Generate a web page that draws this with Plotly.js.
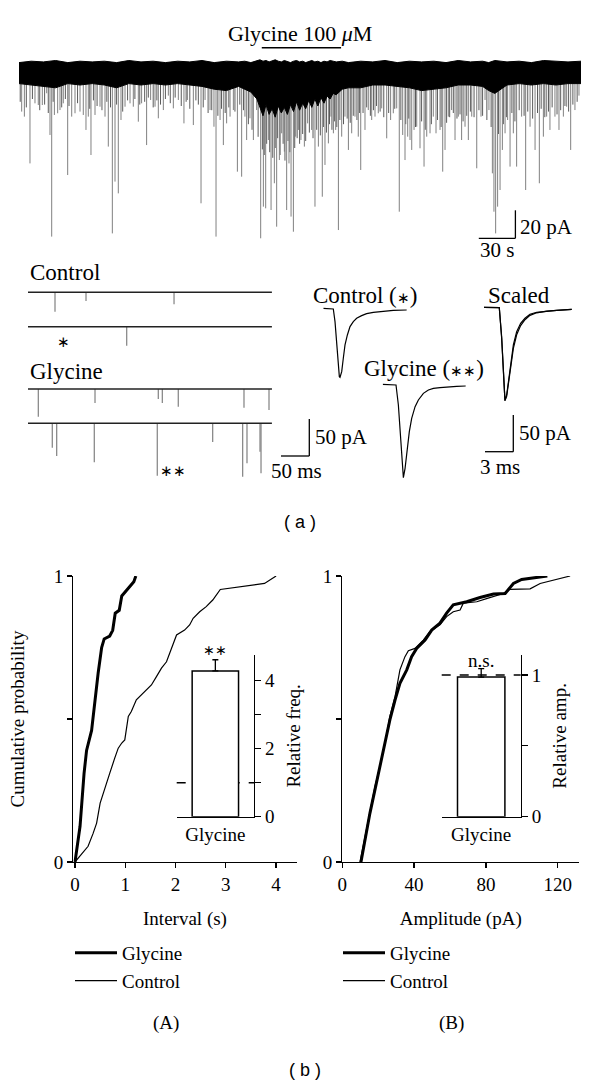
<!DOCTYPE html>
<html>
<head>
<meta charset="utf-8">
<script src="https://cdn.plot.ly/plotly-3.0.1.min.js"></script>
<style>
  html, body { margin: 0; padding: 0; background: #ffffff; }
  #chart { width: 600px; height: 1087px; }
</style>
</head>
<body>
<div id="chart"></div>
<script>
// ---------- (a) continuous recording: large events, time (s) and amplitude (pA, inward) ----------
const spikeTime = [2.2, 4.4, 9.0, 13.1, 15.8, 19.1, 22.7, 25.4, 26.8, 29.0, 31.7, 33.6, 36.3, 39.9, 43.2, 45.9, 50.0, 52.7, 54.9, 56.8, 59.0, 62.3, 66.4, 70.5, 73.2, 76.5, 78.7, 81.4, 83.6, 86.9, 91.0,
  93.7, 97.8, 100.5, 104.6, 107.9, 111.5, 114.2, 118.3, 122.4, 126.5, 130.6, 135.2, 138.0, 142.9, 149.2, 152.5, 156.6, 159.8, 161.5, 164.8, 167.5, 170.2, 173.0, 175.7, 179.0, 182.5, 185.2,
  186.6, 189.3, 192.1, 194.8, 198.1, 200.3, 202.2, 204.4, 206.6, 209.3, 211.2, 213.4, 215.3, 217.5, 219.4, 221.3, 223.0, 224.9, 226.8, 229.0, 231.1, 233.9, 236.6, 239.9, 242.6, 245.4, 248.6, 250.8, 253.6, 255.7, 257.7, 259.6, 261.8, 264.5, 267.2, 270.0, 272.7, 275.4, 278.1,
  280.1, 283.6, 286.3, 289.1, 291.8, 294.5, 297.3, 301.4, 304.6, 306.8, 309.6, 311.7, 314.5, 316.4, 318.6, 320.5, 321.9, 323.8, 326.0, 328.7, 332.0, 334.2, 336.9, 339.6, 341.8, 345.1, 347.3, 349.2, 351.9, 354.6, 357.4, 360.1, 362.8, 365.6, 368.3, 371.1, 375.2,
  378.7, 382.0, 385.2, 388.0, 389.3, 390.7, 392.3, 394.3, 396.2, 398.4, 400.5, 402.5, 405.2, 407.9, 412.0, 415.3, 418.9, 423.0, 426.5, 429.8, 432.5, 435.2, 439.3, 442.6, 446.2, 448.9, 452.2, 455.7, 459.0];
const spikeAmp = [29.0, 32.6, 66.0, 23.1, 24.3, 24.3, 15.9, 45.7, 118.3, 31.4, 30.2, 27.9, 23.1, 74.3, 32.6, 30.2, 29.0, 31.4, 42.1, 32.6, 60.0, 31.4, 25.5, 32.6, 54.0, 116.0, 79.0, 87.4, 35.0, 25.5, 23.1,
  25.5, 36.2, 23.1, 52.9, 20.7, 25.5, 33.8, 27.9, 17.6, 26.7, 20.7, 37.4, 20.7, 38.6, 94.5, 20.7, 27.9, 39.8, 118.3, 35.0, 52.9, 37.4, 32.6, 27.9, 71.9, 75.5, 32.6,
  49.3, 33.8, 49.3, 27.9, 119.5, 96.9, 98.1, 49.3, 99.3, 80.2, 111.2, 63.6, 44.5, 57.6, 99.3, 66.0, 104.0, 114.8, 46.9, 42.1, 49.3, 54.0, 37.4, 42.1, 96.9, 54.0, 89.8, 67.1, 51.7, 32.6, 44.5, 42.1, 113.6, 46.9, 32.6, 56.4, 44.5, 32.6, 46.9,
  70.7, 42.1, 27.9, 35.0, 32.6, 30.2, 26.7, 48.1, 35.0, 30.2, 26.7, 100.5, 45.7, 63.6, 46.9, 49.3, 56.4, 42.1, 39.8, 55.2, 68.3, 46.9, 44.5, 32.6, 44.5, 42.1, 71.9, 56.4, 32.6, 27.9, 49.3, 32.6, 49.3, 39.8, 49.3, 32.6, 69.5,
  32.6, 20.7, 27.9, 73.1, 100.5, 116.0, 96.9, 85.0, 56.4, 44.5, 35.0, 68.3, 44.5, 68.3, 32.6, 85.0, 39.8, 56.4, 80.2, 46.9, 32.6, 42.1, 32.6, 42.1, 32.6, 25.5, 56.4, 27.9, 17.6];
// smaller events forming the fringe under the noise band
const minorTime = [1, 6, 11, 17, 21, 24, 28, 35, 38, 41, 48, 58, 61, 64, 68, 72, 75, 80, 85, 89,
  95, 99, 103, 106, 110, 113, 116, 120, 124, 128, 133, 137, 140, 145, 147, 151, 155, 158, 163, 166, 169, 172, 177, 181, 184,
  188, 191, 196, 199.5, 201, 203, 205.5, 208, 210, 212, 214, 216.5, 218, 220.5, 222, 226, 228, 230, 232.5, 235, 238, 241, 244, 247, 249.5, 252, 254.5, 256.5, 258.5, 260.5, 263, 266, 269, 271.5, 274, 277, 279,
  282, 285, 288, 290.5, 293, 296, 299, 303, 308, 313, 317, 319.5, 325, 330, 333, 338, 343, 346, 350.5, 353, 356, 359, 361.5, 364, 367, 370, 373,
  377, 380, 383.5, 387, 393, 397, 399.5, 404, 406.5, 410, 414, 417, 421, 425, 428, 431, 434, 437, 441, 444, 447.5, 450.5, 454, 457.5];
const minorAmp = [22, 26, 20, 28, 24, 30, 22, 26, 20, 25, 23, 27, 21, 25, 28, 22, 26, 24, 29, 21,
  20, 24, 22, 19, 26, 21, 24, 20, 23, 19, 25, 22, 27, 21, 24, 26, 30, 28, 32, 27, 30, 26, 29, 24, 28,
  38, 42, 47, 56, 60, 52, 58, 62, 55, 48, 60, 52, 64, 50, 58, 55, 48, 52, 45, 50, 44, 48, 42, 46, 40, 44, 38, 42, 36, 40, 35, 38, 34, 37, 32, 35, 30,
  30, 26, 32, 28, 25, 29, 33, 30, 27, 35, 38, 34, 40, 36, 42, 38, 35, 40, 37, 33, 30, 34, 31, 36, 32, 29, 33,
  28, 32, 35, 40, 45, 38, 33, 30, 36, 28, 32, 29, 34, 30, 27, 33, 29, 26, 31, 28, 25, 29, 24, 22];
// noise envelope around the baseline (pA)
const bandTime = [0, 10, 20, 30, 40, 50, 60, 70, 80, 90, 100, 110, 120, 130, 140, 150, 160, 170, 180, 185, 190, 195,
  197.5, 200, 202.5, 205, 207.5, 210, 212.5, 215, 217.5, 220, 222.5, 225, 227.5, 230, 232.5, 235, 237.5, 240, 242.5, 245, 247.5, 250, 252.5, 255, 257.5, 260, 265, 270,
  280, 290, 300, 310, 320, 330, 340, 350, 360, 370, 380, 385, 390, 395, 400, 410, 420, 430, 440, 450, 460.7];
const bandUpper = [6, 7, 6.5, 7.5, 6, 7, 6.5, 7, 6, 7.5, 6.5, 7, 6, 7, 6.5, 7.5, 6, 7, 6.5, 7, 6, 7.5,
  8, 7, 7.5, 6.5, 7, 8, 7, 6.5, 7.5, 7, 6, 7, 7.5, 6.5, 7, 6, 7, 7.5, 6.5, 7, 6, 7, 6.5, 7.5, 7, 6.5, 7, 6,
  7, 6.5, 7.5, 6, 7, 6.5, 7, 6, 7.5, 6.5, 7, 6, 7.5, 7, 6.5, 7, 6, 7.5, 7, 6.5, 7];
const bandLower = [-9, -10, -11, -12, -9, -10, -9, -10, -12, -9, -10, -9, -10, -9, -10, -11, -13, -14, -11, -13, -15, -20,
  -26, -32, -24, -31, -27, -33, -25, -30, -26, -31, -24, -29, -22, -28, -23, -27, -21, -26, -20, -25, -19, -23, -18, -20, -16, -17, -13, -12,
  -12, -10, -10, -11, -12, -14, -13, -12, -10, -10, -11, -14, -16, -13, -10, -9, -10, -9, -10, -9, -9];
const glycineWindow = [199, 264];
const recordLength = 460.7;

// ---------- (a) sample sweeps (ms, pA) ----------
const sweepLength = 431;
const sweep1Time = [47.7, 102.5, 258.0];
const sweep1Amp = [26.2, 11.8, 16.2];
const sweep2Time = [174.4];
const sweep2Amp = [25.7];
const sweep3Time = [18.2, 118.4, 230.2, 237.3, 265.5, 381.6, 425.8];
const sweep3Amp = [37.4, 18.9, 13.5, 18.9, 23.9, 25.3, 28.4];
const sweep4Time = [42.9, 50.7, 117.1, 228.4, 326.3, 379.3, 386.9, 409.9, 411.7];
const sweep4Amp = [33.0, 44.2, 52.7, 70.8, 25.3, 72.2, 54.1, 38.4, 67.6];

// ---------- (a) averaged events (ms, pA) ----------
const ctlAvgTime = [0, 1.06, 1.24, 1.49, 1.70, 1.77, 1.95, 2.12, 2.30, 2.55, 2.83, 3.18, 3.53, 4.06, 4.59, 5.30, 6.36, 7.42, 8.83];
const ctlAvg = [0, -0.9, -18.2, -63.7, -93.2, -94.1, -86.4, -68.2, -50.0, -36.4, -25.0, -18.2, -13.6, -10.0, -7.3, -5.5, -3.6, -2.7, -2.3];
const glyAvgTime = [0, 1.41, 1.66, 1.91, 2.12, 2.19, 2.37, 2.54, 2.82, 3.07, 3.43, 3.78, 4.31, 4.84, 5.37, 6.07, 6.78, 7.84, 8.79];
const glyAvg = [0, -0.9, -28.2, -78.2, -119.1, -127.3, -114.6, -91.9, -64.6, -46.4, -30.5, -21.4, -12.3, -7.7, -5.5, -4.5, -3.6, -2.7, -2.3];
const scaledTime = [0, 1.62, 1.87, 2.05, 2.22, 2.40, 2.58, 2.82, 3.11, 3.46, 3.88, 4.34, 4.87, 5.58, 6.64, 7.70, 9.29];
const scaledGly = [0, -0.5, -42.3, -87.8, -127.3, -119.6, -101.4, -74.1, -51.4, -33.2, -21.8, -15.0, -9.5, -6.8, -5.0, -4.1, -2.7];
const scaledCtl = [0, -0.5, -40.0, -85.0, -127.3, -121.5, -105.0, -79.0, -56.0, -37.5, -25.0, -17.0, -11.0, -7.5, -5.2, -4.1, -2.7];

// ---------- (b) cumulative distributions ----------
const intervalGly = [0, 0.10, 0.18, 0.23, 0.33, 0.40, 0.46, 0.53, 0.58, 0.69, 0.75, 0.80, 0.88, 0.93, 1.02, 1.12, 1.17, 1.21];
const cumIntervalGly = [0, 0.125, 0.31, 0.39, 0.46, 0.57, 0.66, 0.75, 0.78, 0.79, 0.81, 0.87, 0.88, 0.93, 0.95, 0.97, 0.98, 1.0];
const intervalCtl = [0, 0.10, 0.26, 0.36, 0.43, 0.50, 0.60, 0.69, 0.79, 0.86, 0.93, 0.99, 1.06, 1.12, 1.22, 1.39, 1.52, 1.62, 1.72, 1.82, 1.92, 2.02, 2.18, 2.28, 2.35, 2.48, 2.61, 2.74, 2.89, 3.07, 3.77, 4.0];
const cumIntervalCtl = [0, 0.02, 0.055, 0.10, 0.136, 0.206, 0.264, 0.31, 0.363, 0.398, 0.416, 0.427, 0.509, 0.526, 0.567, 0.596, 0.619, 0.648, 0.678, 0.70, 0.747, 0.794, 0.811, 0.829, 0.852, 0.875, 0.893, 0.916, 0.953, 0.957, 0.974, 1.0];
const ampGly = [10.4, 12.6, 15.4, 18.2, 21.0, 23.8, 26.5, 29.4, 32.1, 35.9, 38.6, 41.4, 46.1, 49.8, 54.4, 58.1, 61.8, 69.3, 76.7, 84.2, 90.7, 95.3, 99.9, 114.2];
const cumAmpGly = [0, 0.078, 0.171, 0.253, 0.334, 0.416, 0.497, 0.567, 0.625, 0.672, 0.718, 0.747, 0.776, 0.811, 0.835, 0.87, 0.899, 0.91, 0.925, 0.937, 0.939, 0.974, 0.988, 1.0];
const ampCtl = [9.85, 12.6, 15.4, 18.2, 21.0, 23.8, 26.5, 29.4, 32.1, 34.9, 36.8, 40.5, 45.1, 48.8, 54.4, 58.1, 61.8, 65.6, 67.4, 74.9, 80.8, 89.7, 93.4, 104.6, 110.2, 126.9];
const cumAmpCtl = [0, 0.09, 0.171, 0.264, 0.334, 0.416, 0.509, 0.579, 0.672, 0.718, 0.739, 0.747, 0.776, 0.806, 0.829, 0.858, 0.875, 0.881, 0.905, 0.91, 0.922, 0.939, 0.953, 0.955, 0.974, 1.0];

// inset bars (relative to control = 1)
const insetCategory = ["Glycine"];
const relFreq = [4.29];
const relFreqErr = [0.33];
const relAmp = [0.985];
const relAmpErr = [0.06];

// ---------- helpers ----------
const W = 600, H = 1087;
const SERIF = "Liberation Serif, Times New Roman, serif";
const SANS = "Liberation Sans, Arial, sans-serif";
const STAR = '<span style="font-size:15px">∗</span>';

function xdom(a, b) { return [a / W, b / W]; }
function ydom(top, bottom) { return [1 - bottom / H, 1 - top / H]; }

// hidden axis pair for a raw trace: x0/base in px, scales in px per unit
function traceAxes(layout, n, x0, base, pxX, pxY, widthPx, abovePx, belowPx) {
  const id = n === 1 ? "" : n;
  layout["xaxis" + id] = { domain: xdom(x0, x0 + widthPx), range: [0, widthPx / pxX], visible: false, fixedrange: true, anchor: "y" + id };
  layout["yaxis" + id] = { domain: ydom(base - abovePx, base + belowPx), range: [-belowPx / pxY, abovePx / pxY], visible: false, fixedrange: true, anchor: "x" + id };
}

function dropLines(times, amps) {
  const x = [], y = [];
  times.forEach((t, i) => { x.push(t, t, null); y.push(0, -amps[i], null); });
  return { x, y };
}

function label(text, xpx, ypx, size, extra) {
  return Object.assign({
    text, xref: "paper", yref: "paper", x: xpx / W, y: 1 - ypx / H,
    showarrow: false, xanchor: "center", yanchor: "middle",
    font: { family: SERIF, size, color: "black" },
  }, extra || {});
}

function seg(x0, y0, x1, y1) {
  return { type: "line", xref: "paper", yref: "paper", x0: x0 / W, y0: 1 - y0 / H, x1: x1 / W, y1: 1 - y1 / H, line: { color: "black", width: 1.3 } };
}

// L-shaped scale bar with its corner at (cx, cy) px
function scaleBar(cx, cy, wPx, hPx) {
  return [seg(cx - wPx, cy, cx, cy), seg(cx, cy, cx, cy - hPx)];
}

const GRAY = "#808080";
const traces = [];
const layout = {
  width: W, height: H,
  margin: { l: 0, r: 0, t: 0, b: 0 },
  paper_bgcolor: "#ffffff",
  plot_bgcolor: "rgba(0,0,0,0)",
  font: { family: SERIF, color: "black" },
  showlegend: true,
  shapes: [],
  annotations: [],
};

// ---------- (a) top recording ----------
const topScale = { x0: 19, base: 71, pxX: 1.22, pxY: 1.4 };
traceAxes(layout, 1, topScale.x0, topScale.base, topScale.pxX, topScale.pxY, recordLength * topScale.pxX, 30, 175);
const topMinor = dropLines(minorTime, minorAmp);
const topSpikes = dropLines(spikeTime, spikeAmp);
traces.push({ x: topMinor.x, y: topMinor.y, xaxis: "x", yaxis: "y", mode: "lines", line: { color: "#5a5a5a", width: 1 }, hoverinfo: "skip", showlegend: false });
traces.push({ x: topSpikes.x, y: topSpikes.y, xaxis: "x", yaxis: "y", mode: "lines", line: { color: GRAY, width: 1 }, hoverinfo: "skip", showlegend: false });
traces.push({ x: bandTime, y: bandUpper, xaxis: "x", yaxis: "y", mode: "lines", line: { color: "black", width: 1 }, hoverinfo: "skip", showlegend: false });
traces.push({ x: bandTime, y: bandLower, xaxis: "x", yaxis: "y", mode: "lines", fill: "tonexty", fillcolor: "black", line: { color: "black", width: 1 }, hoverinfo: "skip", showlegend: false });
layout.shapes.push({ type: "line", xref: "x", yref: "paper", x0: glycineWindow[0], x1: glycineWindow[1], y0: 1 - 47.7 / H, y1: 1 - 47.7 / H, line: { color: "black", width: 1.5 } });
layout.annotations.push(label("Glycine 100 <i>μ</i>M", 300, 33, 22));
layout.shapes.push(...scaleBar(515.4, 238.3, 30 * topScale.pxX, 20 * topScale.pxY));
layout.annotations.push(label("20 pA", 518, 227, 21, { xanchor: "left" }));
layout.annotations.push(label("30 s", 497, 250, 21));

// ---------- (a) sample sweeps ----------
const sweepScale = { x0: 28, pxX: 0.566, pxY: 0.74 };
const sweeps = [
  { base: 292.3, t: sweep1Time, a: sweep1Amp },
  { base: 326.7, t: sweep2Time, a: sweep2Amp },
  { base: 389.0, t: sweep3Time, a: sweep3Amp },
  { base: 423.3, t: sweep4Time, a: sweep4Amp },
];
sweeps.forEach((s, i) => {
  const n = i + 2;
  traceAxes(layout, n, sweepScale.x0, s.base, sweepScale.pxX, sweepScale.pxY, sweepLength * sweepScale.pxX, 8, 62);
  const d = dropLines(s.t, s.a);
  traces.push({ x: d.x, y: d.y, xaxis: "x" + n, yaxis: "y" + n, mode: "lines", line: { color: GRAY, width: 1.2 }, hoverinfo: "skip", showlegend: false });
  traces.push({ x: [0, sweepLength], y: [0, 0], xaxis: "x" + n, yaxis: "y" + n, mode: "lines", line: { color: "#222222", width: 1.6 }, hoverinfo: "skip", showlegend: false });
});
layout.annotations.push(label("Control", 28, 272, 23, { xanchor: "left" }));
layout.annotations.push(label("Glycine", 28, 372, 23, { xanchor: "left" }));
layout.annotations.push(label(STAR, 63, 342, 15));
layout.annotations.push(label(STAR + STAR, 173, 471, 15));
layout.shapes.push(...scaleBar(309.3, 456, 50 * sweepScale.pxX, 50 * sweepScale.pxY));
layout.annotations.push(label("50 pA", 313, 437, 21, { xanchor: "left" }));
layout.annotations.push(label("50 ms", 296, 471, 21));

// ---------- (a) averaged events ----------
const avgScale = { pxX: 9.44, pxY: 0.733 };
traceAxes(layout, 6, 323.3, 308.3, avgScale.pxX, avgScale.pxY, 100, 8, 140);
traceAxes(layout, 7, 382.7, 384.3, avgScale.pxX, avgScale.pxY, 100, 8, 140);
traceAxes(layout, 8, 484.0, 307.3, avgScale.pxX, avgScale.pxY, 100, 8, 140);
const avgLine = { mode: "lines", line: { color: "black", width: 1.2 }, hoverinfo: "skip", showlegend: false };
traces.push(Object.assign({ x: ctlAvgTime, y: ctlAvg, xaxis: "x6", yaxis: "y6" }, avgLine));
traces.push(Object.assign({ x: glyAvgTime, y: glyAvg, xaxis: "x7", yaxis: "y7" }, avgLine));
traces.push(Object.assign({ x: scaledTime, y: scaledCtl, xaxis: "x8", yaxis: "y8" }, avgLine));
traces.push(Object.assign({ x: scaledTime, y: scaledGly, xaxis: "x8", yaxis: "y8" }, avgLine));
layout.annotations.push(label("Control (" + STAR + ")", 365, 296, 23));
layout.annotations.push(label("Glycine (" + STAR + STAR + ")", 424, 368, 23));
layout.annotations.push(label("Scaled", 519, 296, 23));
layout.shapes.push(...scaleBar(513.3, 451.7, 3 * avgScale.pxX, 50 * avgScale.pxY));
layout.annotations.push(label("50 pA", 517, 433, 21, { xanchor: "left" }));
layout.annotations.push(label("3 ms", 500, 467, 21));
layout.annotations.push(label("( a )", 300, 522, 18, { font: { family: SANS, size: 18, color: "black" } }));

// ---------- (b) cumulative plots ----------
const axisLine = { showline: true, linecolor: "black", linewidth: 1.3, ticks: "outside", ticklen: 5, tickwidth: 1.3, tickcolor: "black", showgrid: false, zeroline: false, fixedrange: true, tickfont: { family: SERIF, size: 19, color: "black" } };

layout.xaxis9 = Object.assign({}, axisLine, {
  domain: xdom(73.3, 296.7), range: [-0.034, 4.41], anchor: "y9", tickvals: [0, 1, 2, 3, 4],
  title: { text: "Interval (s)", font: { family: SERIF, size: 19 }, standoff: 17 },
});
layout.yaxis9 = Object.assign({}, axisLine, {
  domain: ydom(576, 862), range: [0, 1], anchor: "x9", tickvals: [0, 0.5, 1], ticktext: ["0", "", "1"],
  title: { text: "Cumulative probability", font: { family: SERIF, size: 19 }, standoff: 24 },
});
layout.xaxis11 = Object.assign({}, axisLine, {
  domain: xdom(342.3, 579.3), range: [0, 132], anchor: "y11", tickvals: [0, 40, 80, 120],
  title: { text: "Amplitude (pA)", font: { family: SERIF, size: 19 }, standoff: 17 },
});
layout.yaxis11 = Object.assign({}, axisLine, {
  domain: ydom(576, 862), range: [0, 1], anchor: "x11", tickvals: [0, 0.5, 1], ticktext: ["0", "", "1"],
});

traces.push({ x: intervalGly, y: cumIntervalGly, xaxis: "x9", yaxis: "y9", mode: "lines", name: "Glycine", line: { color: "black", width: 3 }, legend: "legend" });
traces.push({ x: intervalCtl, y: cumIntervalCtl, xaxis: "x9", yaxis: "y9", mode: "lines", name: "Control", line: { color: "black", width: 1.2 }, legend: "legend" });
traces.push({ x: ampGly, y: cumAmpGly, xaxis: "x11", yaxis: "y11", mode: "lines", name: "Glycine", line: { color: "black", width: 3 }, legend: "legend2" });
traces.push({ x: ampCtl, y: cumAmpCtl, xaxis: "x11", yaxis: "y11", mode: "lines", name: "Control", line: { color: "black", width: 1.2 }, legend: "legend2" });

// ---------- (b) inset bars ----------
function insetAxes(n, x0, x1, yMax, tickvals, ticktext, title) {
  layout["xaxis" + n] = {
    domain: xdom(x0, x1), range: [-0.5, 0.5], anchor: "y" + n, showline: true, linecolor: "black", linewidth: 1.3,
    ticks: "", tickvals: [0], ticktext: insetCategory, tickfont: { family: SERIF, size: 19 }, showgrid: false, zeroline: false, fixedrange: true,
  };
  layout["yaxis" + n] = Object.assign({}, axisLine, {
    domain: ydom(655, 816.7), range: [0, yMax], anchor: "x" + n, side: "right", ticklen: 6,
    tickvals, ticktext, title: { text: title, font: { family: SERIF, size: 19 }, standoff: 12 },
  });
  layout.shapes.push({ type: "line", xref: "x" + n + " domain", yref: "y" + n, x0: 0, x1: 1, y0: 1, y1: 1, layer: "below", line: { color: "black", width: 1.3, dash: "dash" } });
}
insetAxes(10, 176.7, 254, 4.76, [0, 1, 2, 3, 4], ["0", "", "2", "", "4"], "Relative freq.");
insetAxes(12, 441.7, 520.7, 1.141, [0, 0.5, 1], ["0", "", "1"], "Relative amp.");

const barStyle = { type: "bar", width: 0.6, marker: { color: "#ffffff", line: { color: "black", width: 1.5 } }, showlegend: false, hoverinfo: "skip" };
traces.push(Object.assign({}, barStyle, { x: [0], y: relFreq, xaxis: "x10", yaxis: "y10",
  error_y: { type: "data", symmetric: false, array: relFreqErr, arrayminus: [0], color: "black", thickness: 1.3, width: 3 } }));
traces.push(Object.assign({}, barStyle, { x: [0], y: relAmp, xaxis: "x12", yaxis: "y12",
  error_y: { type: "data", symmetric: false, array: relAmpErr, arrayminus: [0], color: "black", thickness: 1.3, width: 3 } }));
layout.annotations.push({ text: "∗∗", xref: "x10", yref: "y10", x: 0, y: relFreq[0] + relFreqErr[0], yanchor: "bottom", showarrow: false, font: { family: SERIF, size: 14 } });
layout.annotations.push({ text: "n.s.", xref: "x12", yref: "y12", x: 0, y: relAmp[0] + relAmpErr[0], yanchor: "bottom", yshift: -4, showarrow: false, font: { family: SERIF, size: 19 } });

// ---------- legends and panel labels ----------
const legendBase = { xanchor: "left", yanchor: "top", font: { family: SERIF, size: 19, color: "black" }, itemwidth: 42, bgcolor: "rgba(0,0,0,0)", tracegroupgap: 0, traceorder: "normal" };
layout.legend = Object.assign({}, legendBase, { x: 70 / W, y: 1 - 934 / H });
layout.legend2 = Object.assign({}, legendBase, { x: 338 / W, y: 1 - 934 / H });
layout.annotations.push(label("(A)", 166, 1023, 19));
layout.annotations.push(label("(B)", 451, 1023, 19));
layout.annotations.push(label("( b )", 305, 1070, 18, { font: { family: SANS, size: 18, color: "black" } }));

Plotly.newPlot("chart", traces, layout, { staticPlot: true, displayModeBar: false });
</script>
</body>
</html>
